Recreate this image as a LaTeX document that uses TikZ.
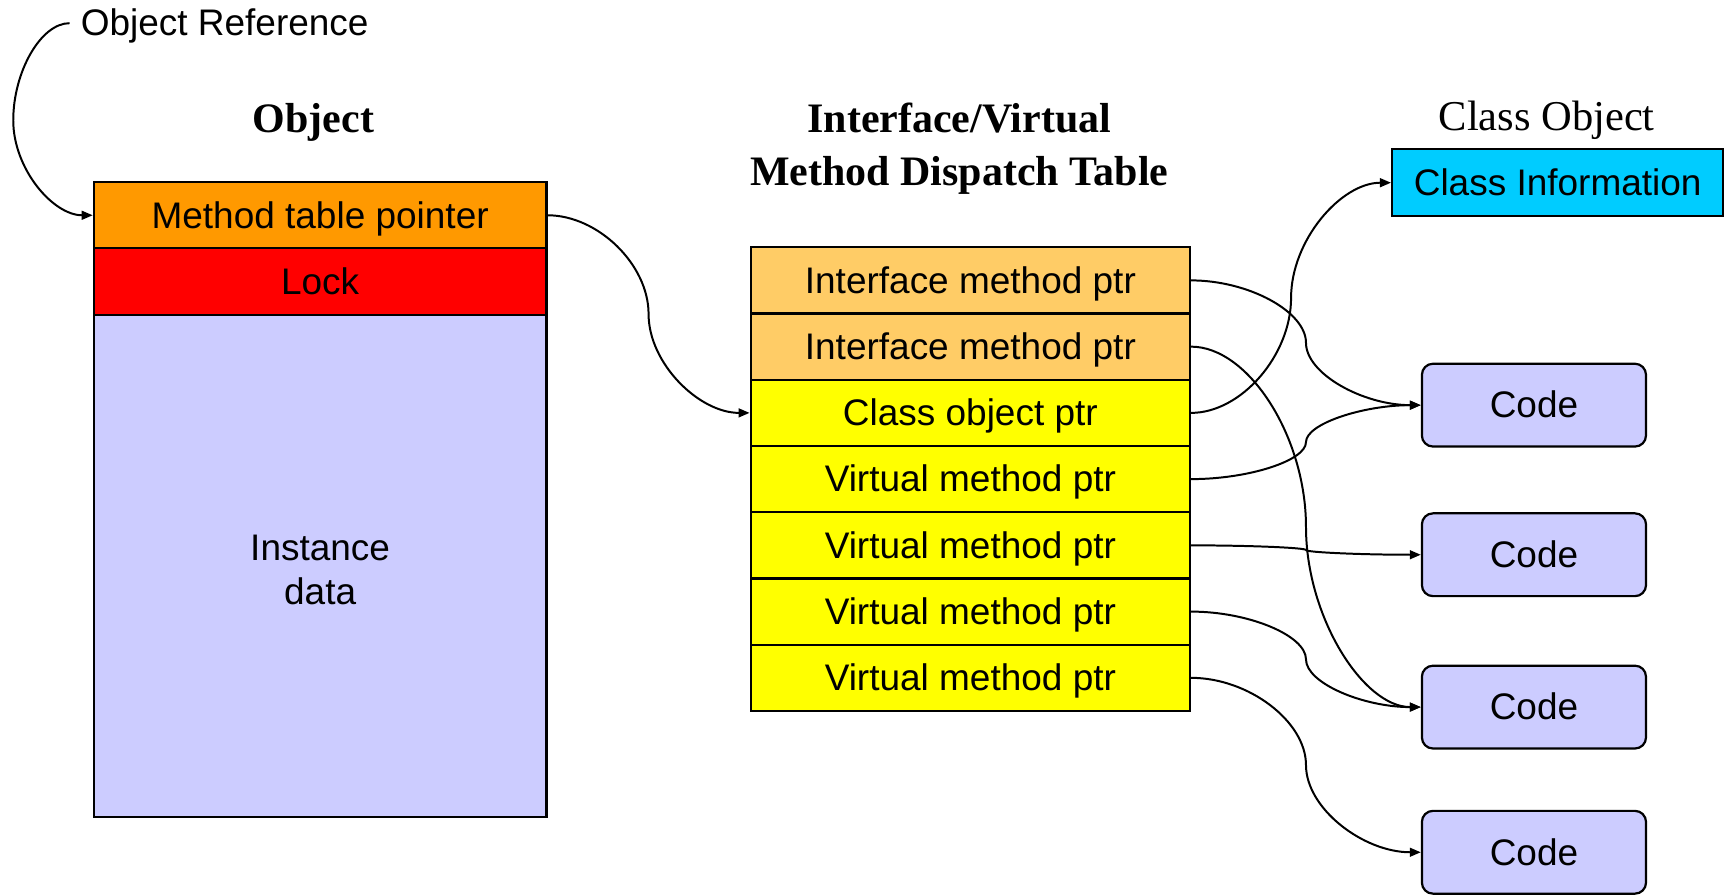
\documentclass[tikz,border=0pt]{standalone}
\usepackage{fontspec}
\setmainfont{Liberation Sans}
\newfontfamily\timesfont{Liberation Serif}
\usetikzlibrary{arrows.meta,calc}
\definecolor{cOrange}{HTML}{FF9900}
\definecolor{cRed}{HTML}{FF0000}
\definecolor{cLav}{HTML}{CCCCFF}
\definecolor{cLtOrange}{HTML}{FFCC66}
\definecolor{cYellow}{HTML}{FFFF00}
\definecolor{cCyan}{HTML}{00CCFF}
\begin{document}
\begin{tikzpicture}[x=1pt,y=-1pt,
  txt/.style={font=\fontsize{33.5}{40}\selectfont},
  line/.style={txt, text height=30.3pt, text depth=7.1pt},
  cell/.style={draw=black, line width=2pt, inner sep=0pt, line},
  objcell/.style={cell, minimum width=410pt},
  tabcell/.style={cell, minimum width=398pt, minimum height=60pt},
  codebox/.style={cell, fill=cLav, rounded corners=10pt, minimum width=203pt, minimum height=75pt},
  title/.style={font=\timesfont\bfseries\fontsize{38}{48}\selectfont, align=center, inner sep=0pt},
  conn/.style={line width=1.8pt, -{Triangle[length=10pt,width=8pt]}},
  pcurve/.style={to path={let \p1=(\tikztostart), \p2=(\tikztotarget) in
    .. controls ({\x1+(\x2-(\x1))/4},{\y1}) and ({(\x1+\x2)/2},{\y1+(\y2-(\y1))/4}) ..
    ({(\x1+\x2)/2},{(\y1+\y2)/2})
    .. controls ({(\x1+\x2)/2},{\y1+3*(\y2-(\y1))/4}) and ({\x1+3*(\x2-(\x1))/4},{\y2}) ..
    (\tikztotarget) \tikztonodes}}
]
\useasboundingbox (0,0) rectangle (1568,811);

% titles
\node[line, anchor=west, inner sep=0pt] (objref) at (73,21) {Object Reference};
\node[title] (objtitle) at (284,111) {Object};
\node[title] (tabtitle) at (869,135) {Interface/Virtual\\Method Dispatch Table};
\node[font=\timesfont\fontsize{38.5}{46}\selectfont, inner sep=0pt] (cotitle) at (1401,109) {Class Object};

% object
\node[objcell, fill=cOrange, minimum height=60pt] (mtp) at (290,195) {Method table pointer};
\node[objcell, fill=cRed, minimum height=60pt] (lock) at (290,255) {Lock};
\node[objcell, fill=cLav, minimum height=455pt] (inst) at (290,512.5) {};
\node[txt, align=center, inner sep=0pt] (insttext) at (290,516) {Instance\\data};

% table
\node[tabcell, fill=cLtOrange] (ip1) at (879,254) {Interface method ptr};
\node[tabcell, fill=cLtOrange] (ip2) at (879,314) {Interface method ptr};
\node[tabcell, fill=cYellow] (cop) at (879,374) {Class object ptr};
\node[tabcell, fill=cYellow] (vp1) at (879,434) {Virtual method ptr};
\node[tabcell, fill=cYellow] (vp2) at (879,494) {Virtual method ptr};
\node[tabcell, fill=cYellow] (vp3) at (879,554) {Virtual method ptr};
\node[tabcell, fill=cYellow] (vp4) at (879,614) {Virtual method ptr};

% class info
\node[cell, fill=cCyan, minimum width=300pt, minimum height=61pt] (cinfo) at (1411,165.5) {Class Information};

% code boxes
\node[codebox] (code1) at (1389.5,367) {Code};
\node[codebox] (code2) at (1389.5,502.5) {Code};
\node[codebox] (code3) at (1389.5,640.5) {Code};
\node[codebox] (code4) at (1389.5,772) {Code};

% connectors
\coordinate (refstart) at (63,21);
\draw[conn] (refstart) .. controls (37,21) and (12,65) .. (12,109)
  .. controls (12,153) and (48,195) .. (mtp.west);
\draw[conn] (mtp.east) to[pcurve] (cop.west);
\draw[conn] (ip1.east) to[pcurve] (code1.west);
\draw[conn] (ip2.east) to[pcurve] (code3.west);
\draw[conn] (cop.east) to[pcurve] (cinfo.west);
\draw[conn] (vp1.east) to[pcurve] (code1.west);
\draw[conn] (vp2.east) to[pcurve] (code2.west);
\draw[conn] (vp3.east) to[pcurve] (code3.west);
\draw[conn] (vp4.east) to[pcurve] (code4.west);
\end{tikzpicture}
\end{document}
